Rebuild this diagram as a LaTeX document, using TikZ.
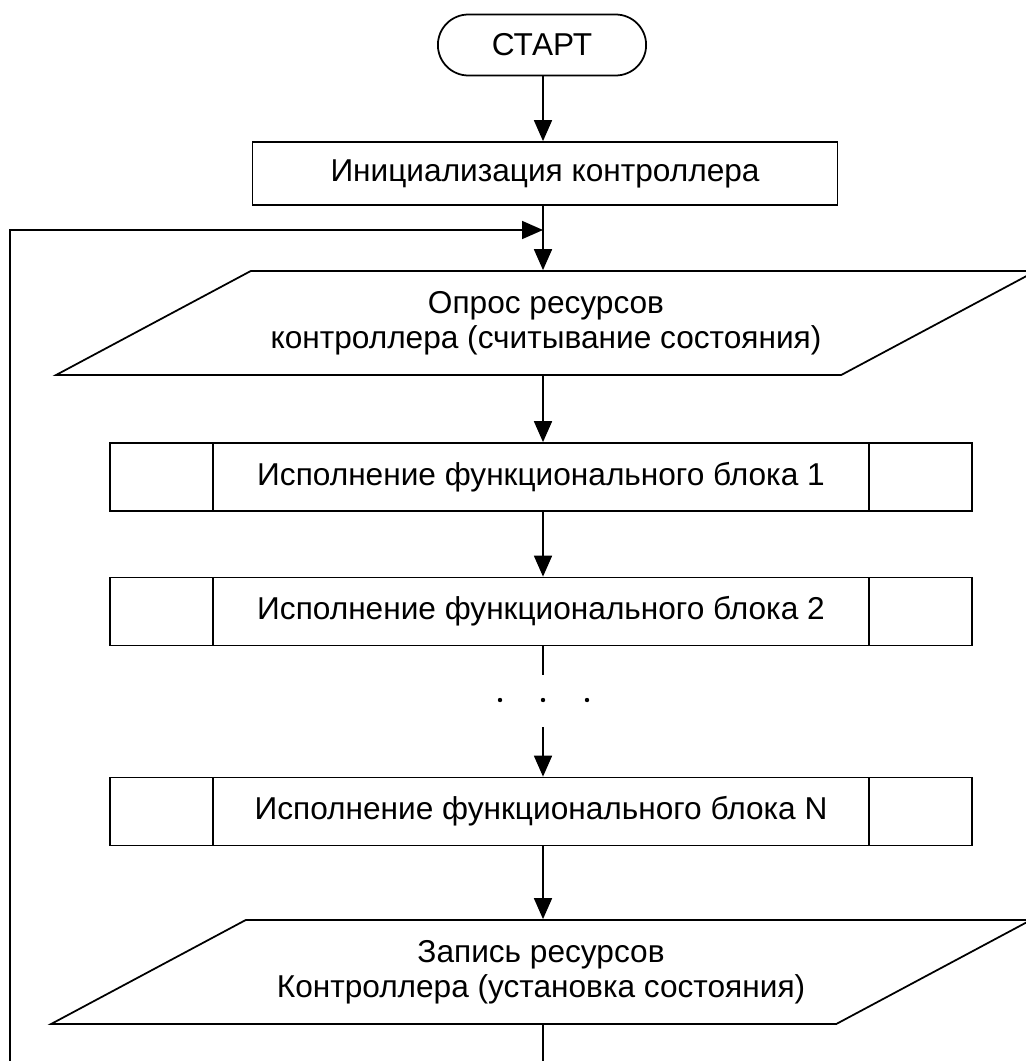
\documentclass[tikz,border=0pt]{standalone}
\usepackage{fontspec}
\setmainfont{Liberation Sans}
\usetikzlibrary{arrows.meta,shapes.geometric,shapes.misc}

\tikzset{
  terminal/.style={draw, rounded rectangle, minimum width=4.4cm, minimum height=1.22cm},
  procbox/.style={draw, rectangle, minimum width=11.7cm, minimum height=1.26cm},
  iobox/.style={draw, trapezium, trapezium left angle=21.2, trapezium right angle=158.8,
    trapezium stretches body, minimum width=19.6cm, minimum height=2.08cm, align=center},
  predef/.style={draw, rectangle, minimum width=17.24cm, minimum height=1.36cm,
    path picture={
      \draw ([xshift=2.06cm]path picture bounding box.north west) -- ([xshift=2.06cm]path picture bounding box.south west);
      \draw ([xshift=-2.06cm]path picture bounding box.north east) -- ([xshift=-2.06cm]path picture bounding box.south east);
    }},
}

\begin{document}
\begin{tikzpicture}[x=0.02cm, y=-0.02cm, line width=1pt,
  font=\fontsize{18}{20}\selectfont, >={Triangle[length=0.42cm,width=0.36cm]}]
\useasboundingbox (0,0) rectangle (1025,1061);

\node [terminal] (start) at (542,45) {СТАРТ};
\node [procbox] (init) at (545,173.5) {Инициализация контроллера};
\node [iobox] (read) at (546,323) {Опрос ресурсов\\контроллера (считывание состояния)};

\node [predef] (fb1) at (541,477) {Исполнение функционального блока 1};
\node [predef] (fb2) at (541,611.5) {Исполнение функционального блока 2};
\node [predef] (fbN) at (541,811.5) {Исполнение функционального блока N};

\node [iobox] (write) at (541,972) {Запись ресурсов\\Контроллера (установка состояния)};

% dots between block 2 and block N
\coordinate (gaptop) at (543,675);
\coordinate (gapbot) at (543,727);
\fill (500,700) circle [radius=2.2];
\fill (543,700) circle [radius=2.2];
\fill (587,700) circle [radius=2.2];

\draw[->] (start.south -| 543,0) -- (543,0 |- init.north);
\draw[->] (543,0 |- init.south) -- (543,0 |- read.north);
\draw[->] (543,0 |- read.south) -- (543,0 |- fb1.north);
\draw[->] (543,0 |- fb1.south) -- (543,0 |- fb2.north);
\draw (543,0 |- fb2.south) -- (gaptop);
\draw[->] (gapbot) -- (543,0 |- fbN.north);
\draw[->] (543,0 |- fbN.south) -- (543,0 |- write.north);

% loop back
\coordinate (loopin) at (543,230);
\coordinate (back) at (10,1090);
\draw[->] (543,0 |- write.south) |- (back) |- (loopin);

\end{tikzpicture}
\end{document}
